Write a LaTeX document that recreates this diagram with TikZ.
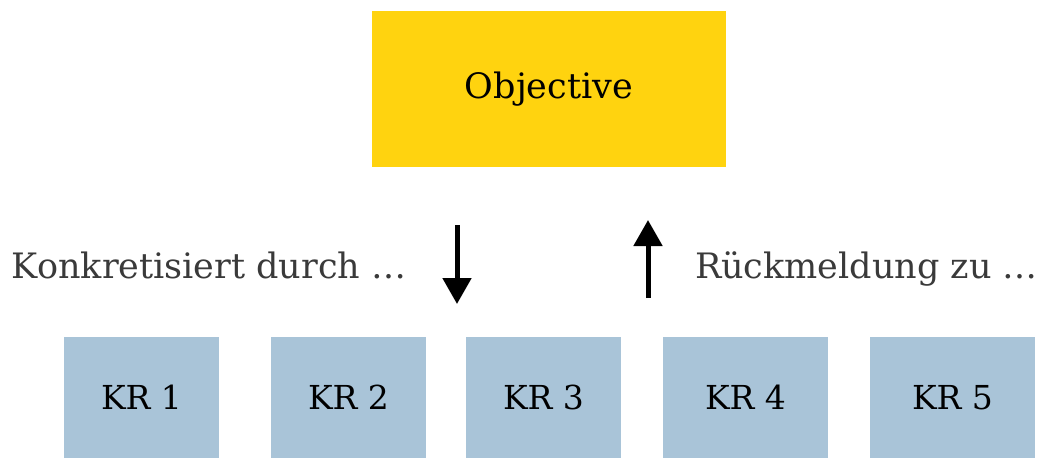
\documentclass[tikz,border=0pt]{standalone}
\usepackage{fontspec}
\setmainfont{DejaVu Serif}
\usetikzlibrary{arrows.meta}
\definecolor{objyellow}{HTML}{FFD30F}
\definecolor{krblue}{HTML}{A9C4D8}
\definecolor{labelgray}{HTML}{3A3A3A}
\begin{document}
\begin{tikzpicture}[x=1pt,y=-1pt,
  box/.style={inner sep=0pt,outer sep=0pt,anchor=north west,font=\fontsize{33}{40}\selectfont,text=black},
  lbl/.style={inner sep=0pt,outer sep=0pt,anchor=base west,font=\fontsize{35}{42}\selectfont,text=labelgray},
  arr/.style={line width=5pt,-{Triangle[width=28pt,length=26pt]}}]
\useasboundingbox (0,0) rectangle (1042,458);
\node[box,fill=objyellow,minimum width=354pt,minimum height=156pt,font=\fontsize{35}{42}\selectfont] (obj) at (372,11) {Objective};
\node[box,fill=krblue,minimum width=155pt,minimum height=121pt] (kr1) at (64,337) {KR 1};
\node[box,fill=krblue,minimum width=155pt,minimum height=121pt] (kr2) at (271,337) {KR 2};
\node[box,fill=krblue,minimum width=155pt,minimum height=121pt] (kr3) at (466,337) {KR 3};
\node[box,fill=krblue,minimum width=165pt,minimum height=121pt] (kr4) at (663,337) {KR 4};
\node[box,fill=krblue,minimum width=165pt,minimum height=121pt] (kr5) at (870,337) {KR 5};
\node[lbl] (konk) at (12,278) {Konkretisiert durch …};
\node[lbl] (rueck) at (695,278) {Rückmeldung zu …};
\coordinate (d1) at (457,225);
\coordinate (d2) at (457,304);
\coordinate (u1) at (648,298);
\coordinate (u2) at (648,220);
\draw[arr] (d1) -- (d2);
\draw[arr] (u1) -- (u2);
\end{tikzpicture}
\end{document}
